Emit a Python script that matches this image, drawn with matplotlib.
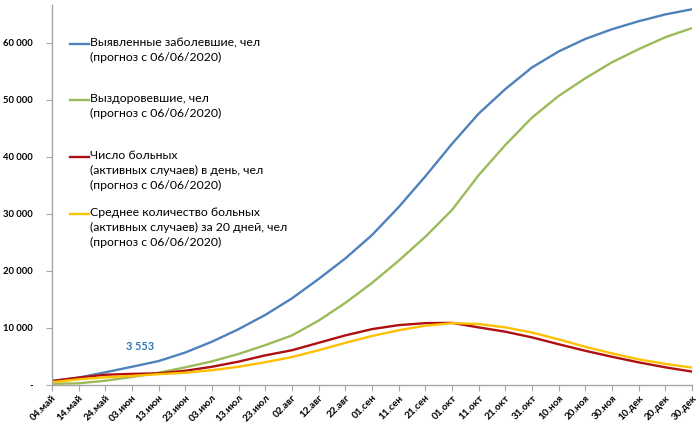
import matplotlib
matplotlib.use("Agg")
import matplotlib.pyplot as plt
import matplotlib.dates as mdates
from matplotlib.ticker import FuncFormatter
from matplotlib.lines import Line2D
import datetime as dt

plt.rcParams['font.family'] = ['Lato', 'DejaVu Sans']

# Dates every 10 days (tick dates)
start = dt.date(2020, 5, 4)
dates = [start + dt.timedelta(days=10 * i) for i in range(25)]
tick_labels = ["04.май", "14.май", "24.май", "03.июн", "13.июн", "23.июн", "03.июл",
               "13.июл", "23.июл", "02.авг", "12.авг", "22.авг", "01.сен", "11.сен",
               "21.сен", "01.окт", "11.окт", "21.окт", "31.окт", "10.ноя", "20.ноя",
               "30.ноя", "10.дек", "20.дек", "30.дек"]

identified = [700, 1300, 2230, 3200, 4200, 5700, 7600, 9800, 12300, 15200, 18600,
              22200, 26300, 31200, 36600, 42300, 47600, 51900, 55700, 58500, 60700,
              62400, 63800, 65000, 65900]
recovered = [200, 300, 750, 1400, 2150, 3100, 4150, 5450, 7000, 8700, 11300, 14400,
             17900, 21800, 26000, 30700, 36800, 42100, 46900, 50700, 53800, 56600,
             58900, 61000, 62600]
active = [700, 1300, 1800, 1950, 2050, 2500, 3200, 4100, 5200, 6100, 7400, 8700,
          9800, 10500, 10850, 10900, 10100, 9350, 8350, 7150, 6000, 4950, 3970,
          3100, 2350]
active_avg = [500, 1000, 1350, 1600, 1900, 2150, 2600, 3200, 4000, 4900, 6100, 7400,
              8600, 9600, 10400, 10850, 10700, 10100, 9200, 8000, 6700, 5550, 4500,
              3700, 3050]

label_date = dt.date(2020, 6, 6)
label_value = 3553

series_labels = [
    "Выявленные заболевшие, чел\n(прогноз с 06/06/2020)",
    "Выздоровевшие, чел\n(прогноз с 06/06/2020)",
    "Число больных\n(активных случаев) в день, чел\n(прогноз с 06/06/2020)",
    "Среднее количество больных\n(активных случаев) за 20 дней, чел\n(прогноз с 06/06/2020)",
]
colors = ["#4F81BD", "#9BBB59", "#B00F0F", "#FFC000"]

fig = plt.figure(figsize=(7.0, 4.28), dpi=100)
ax = fig.add_axes([52 / 700, 1 - 385 / 428, 640 / 700, 380 / 428])

xs = mdates.date2num(dates)
for ys, c in zip([identified, recovered, active, active_avg], colors):
    ax.plot(xs, ys, color=c, lw=1.7, solid_capstyle='round', solid_joinstyle='round')

ax.set_xlim(xs[0], xs[-1])
ax.set_ylim(0, 66650)

ax.set_xticks(xs)
ax.set_xticklabels(tick_labels, rotation=45, ha='right', rotation_mode='anchor',
                   fontsize=7.2, fontweight='bold')
ax.set_yticks([0, 10000, 20000, 30000, 40000, 50000, 60000])

def yfmt(v, pos):
    if v == 0:
        return "-"
    return f"{int(v):,}".replace(",", " ")

ax.yaxis.set_major_formatter(FuncFormatter(yfmt))
for lab in ax.get_yticklabels():
    lab.set_fontweight('bold')
    lab.set_fontsize(6.8)

for s in ['top', 'right']:
    ax.spines[s].set_visible(False)
for s in ['left', 'bottom']:
    ax.spines[s].set_color('#A6A6A6')
    ax.spines[s].set_linewidth(1.0)
ax.tick_params(axis='both', colors='#A6A6A6', labelcolor='black', length=4, width=0.8)
ax.tick_params(axis='y', pad=10)
ax.tick_params(axis='x', pad=2)

# data label
ax.annotate(f"{label_value:,}".replace(",", " "),
            xy=(mdates.date2num(label_date), label_value), xytext=(0, 13),
            textcoords='offset points', ha='center', va='center',
            fontsize=7.8, fontweight='bold', color='#2E75B6')

# manual legend (Excel style: handle next to first text line)
leg_y = [44, 100, 157, 214]
for y, c, t in zip(leg_y, colors, series_labels):
    fy = 1 - y / 428
    fig.add_artist(Line2D([70 / 700, 89 / 700], [fy, fy], color=c, lw=1.7,
                          transform=fig.transFigure))
    fig.text(90 / 700, fy + 7 / 428, t, ha='left', va='top', fontsize=8.8,
             linespacing=1.45, transform=fig.transFigure)

fig.savefig("out.png", dpi=100)
